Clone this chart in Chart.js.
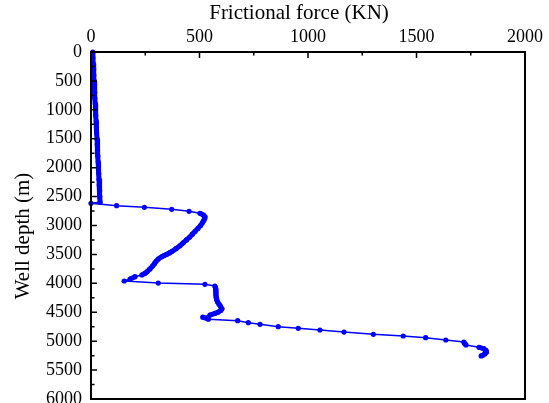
<!DOCTYPE html>
<html>
<head>
<meta charset="utf-8">
<script src="https://cdn.jsdelivr.net/npm/chart.js@4"></script>
<style>
  body { margin: 0; background: #fff; }
  canvas { display: block; }
</style>
</head>
<body>
<canvas id="friction-chart" width="549" height="403"></canvas>
<script>
// well depth (m) and frictional force (KN)
const depths = [
  0, 100, 200, 300, 400, 500, 600, 700, 800, 900, 1000, 1100, 1200, 1300,
  1400, 1500, 1600, 1700, 1800, 1900, 2000, 2100, 2200, 2300, 2400, 2500, 2600,
  2615, 2658, 2686, 2720, 2755, 2789,
  2820, 2850, 2880, 2910, 2950, 3000, 3050, 3100, 3150, 3200, 3250, 3300, 3350,
  3400, 3450, 3475, 3500, 3520, 3540, 3580, 3620, 3660, 3700, 3750, 3800, 3827,
  3856, 3885, 3925, 3960, 3995, 4017, 4046,
  4080, 4120, 4160, 4200, 4240, 4280, 4320, 4360, 4400, 4440, 4470, 4500, 4520,
  4548, 4585, 4620, 4646, 4681, 4709, 4750, 4778, 4807, 4842, 4882, 4911, 4940,
  4980, 5015, 5040, 5065, 5107, 5130, 5160, 5190, 5220, 5245, 5255
];
const forces = [
  8, 9, 10, 12, 13, 14, 16, 17, 18, 20, 21, 22, 24, 25,
  26, 28, 29, 30, 32, 33, 34, 36, 37, 38, 40, 41, 42,
  0, 118, 246, 372, 452, 502,
  518, 525, 524, 520, 514, 505, 493, 480, 467, 455, 440, 425, 410,
  392, 372, 361, 348, 337, 326, 310, 300, 292, 284, 272, 258, 249,
  234, 203, 180, 153, 310, 525, 571,
  574, 575, 576, 576, 577, 579, 583, 590, 597, 603, 598, 585, 571,
  548, 515, 541, 676, 725, 779, 863, 955, 1055, 1166, 1301, 1439, 1542,
  1635, 1718, 1722, 1728, 1788, 1810, 1820, 1822, 1815, 1805, 1798
];
const forceTicks = [0, 500, 1000, 1500, 2000];
const depthTicks = [0, 500, 1000, 1500, 2000, 2500, 3000, 3500, 4000, 4500, 5000, 5500, 6000];
const xTitle = "Frictional force (KN)";
const yTitle = "Well depth (m)";

const serif = "'Liberation Serif', 'Times New Roman', serif";
const points = depths.map((d, i) => ({ x: forces[i], y: d }));

// densely sampled stretches look like a solid thick line in the original
function segWidth(ctx) {
  const dx = ctx.p1.x - ctx.p0.x;
  const dy = ctx.p1.y - ctx.p0.y;
  return Math.hypot(dx, dy) < 6 ? 5 : 1.5;
}

// frame, inward tick marks (major + minor) and the two axis titles
const frameTicks = {
  id: "frameTicks",
  afterDraw(chart) {
    const ctx = chart.ctx;
    const area = chart.chartArea;
    const xs = chart.scales.x;
    const ys = chart.scales.y;
    ctx.save();
    ctx.strokeStyle = "#000";
    ctx.lineWidth = 1.5;
    ctx.beginPath();
    for (let v = 0; v <= 2000; v += 250) {
      const px = xs.getPixelForValue(v);
      const len = v % 500 === 0 ? 6 : 3.5;
      ctx.moveTo(px, area.top);
      ctx.lineTo(px, area.top + len);
    }
    for (let v = 0; v <= 6000; v += 250) {
      const py = ys.getPixelForValue(v);
      const len = v % 500 === 0 ? 6 : 3.5;
      ctx.moveTo(area.left, py);
      ctx.lineTo(area.left + len, py);
    }
    ctx.stroke();
    ctx.lineWidth = 2;
    ctx.strokeRect(area.left, area.top, area.right - area.left, area.bottom - area.top);

    ctx.fillStyle = "#000";
    ctx.font = "21px " + serif;
    ctx.textAlign = "center";
    ctx.textBaseline = "middle";
    ctx.fillText(xTitle, 299, 13);
    ctx.translate(23, 236);
    ctx.rotate(-Math.PI / 2);
    ctx.fillText(yTitle, 0, 0);
    ctx.restore();
  },
};

new Chart(document.getElementById("friction-chart"), {
  type: "scatter",
  data: {
    datasets: [
      {
        label: "Frictional force",
        data: points,
        showLine: true,
        borderColor: "rgb(0, 0, 255)",
        backgroundColor: "rgb(0, 0, 255)",
        borderWidth: 1.5,
        pointRadius: 2.6,
        pointBorderWidth: 0,
        clip: false,
        segment: { borderWidth: segWidth },
      },
    ],
  },
  options: {
    responsive: false,
    animation: false,
    layout: { autoPadding: false, padding: { left: 0, top: 0, right: 24, bottom: 4 } },
    plugins: {
      legend: { display: false },
      tooltip: { enabled: false },
    },
    scales: {
      x: {
        type: "linear",
        position: "top",
        min: 0,
        max: 2000,
        afterBuildTicks: (scale) => {
          scale.ticks = forceTicks.map((v) => ({ value: v }));
        },
        afterFit: (scale) => {
          scale.height = 52;
          scale.paddingLeft = 0;
          scale.paddingRight = 0;
        },
        grid: { display: false, drawTicks: false },
        border: { display: false },
        ticks: {
          color: "#000",
          font: { family: serif, size: 18 },
          padding: 4,
          maxRotation: 0,
          callback: (v) => String(v),
        },
      },
      y: {
        type: "linear",
        reverse: true,
        min: 0,
        max: 6000,
        afterBuildTicks: (scale) => {
          scale.ticks = depthTicks.map((v) => ({ value: v }));
        },
        afterFit: (scale) => {
          scale.width = 91;
          scale.paddingTop = 0;
          scale.paddingBottom = 0;
        },
        grid: { display: false, drawTicks: false },
        border: { display: false },
        ticks: {
          color: "#000",
          font: { family: serif, size: 18 },
          padding: 9,
          callback: (v) => String(v),
        },
      },
    },
  },
  plugins: [frameTicks],
});
</script>
</body>
</html>
